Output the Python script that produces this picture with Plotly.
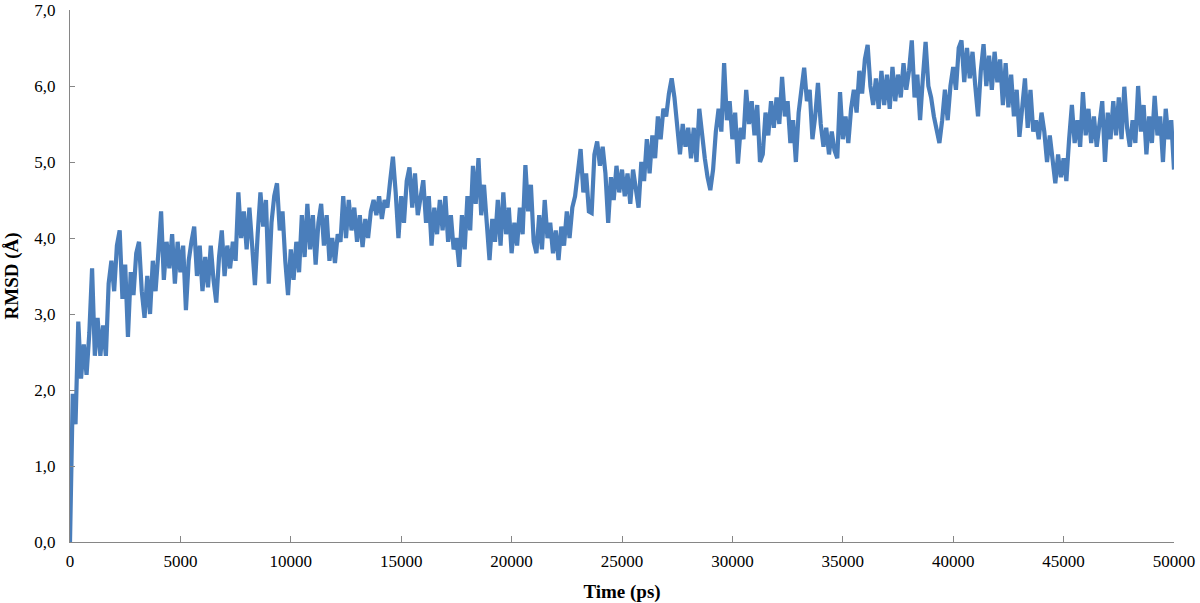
import plotly.graph_objects as go

rmsd_00_05ns = [0.00, 1.95, 1.55, 2.90, 2.15, 2.60, 2.20, 2.75, 3.60, 2.45,
                2.95, 2.45, 2.85, 2.45, 3.40, 3.70, 3.30, 3.90, 4.10, 3.20,
                3.65, 2.70, 3.55, 3.25, 3.80, 3.95, 3.30, 2.95, 3.50, 3.00,
                3.70, 3.30, 3.80, 4.35, 3.45, 3.95, 3.60, 4.05, 3.40, 3.95]
rmsd_05_10ns = [3.55, 3.90, 3.05, 3.70, 3.95, 4.15, 3.50, 3.90, 3.30, 3.75,
                3.35, 3.90, 3.45, 3.15, 3.75, 4.10, 3.50, 3.90, 3.60, 3.95,
                3.70, 4.60, 4.00, 4.35, 3.85, 4.40, 3.90, 3.38, 4.05, 4.60,
                4.15, 4.50, 3.40, 4.20, 4.55, 4.72, 4.10, 4.35, 3.70, 3.25]
rmsd_10_15ns = [3.85, 3.45, 3.95, 3.55, 4.30, 3.75, 4.45, 3.85, 4.30, 3.65,
                4.20, 4.45, 3.90, 4.30, 3.70, 4.00, 3.67, 4.05, 3.95, 4.55,
                4.00, 4.50, 4.10, 4.40, 3.95, 4.30, 3.88, 4.25, 4.00, 4.35,
                4.50, 4.30, 4.55, 4.25, 4.50, 4.40, 4.75, 5.07, 4.60, 4.00]
rmsd_15_20ns = [4.55, 4.20, 4.75, 4.93, 4.40, 4.85, 4.30, 4.55, 4.76, 4.20,
                4.55, 3.90, 4.40, 4.05, 4.50, 4.10, 4.55, 3.95, 4.30, 3.85,
                4.00, 3.62, 4.30, 3.85, 4.55, 4.10, 4.95, 4.45, 5.05, 4.30,
                4.70, 4.20, 3.71, 4.25, 3.95, 4.50, 3.90, 4.60, 4.05, 4.40]
rmsd_20_25ns = [3.80, 4.20, 3.90, 4.40, 4.05, 4.96, 4.35, 4.70, 3.95, 3.80,
                4.30, 3.85, 4.50, 4.00, 4.20, 3.80, 4.10, 3.71, 4.15, 3.90,
                4.35, 4.00, 4.40, 4.55, 4.90, 5.17, 4.60, 4.85, 4.35, 4.33,
                5.10, 5.27, 4.95, 5.20, 4.85, 4.20, 4.80, 4.50, 4.95, 4.60]
rmsd_25_30ns = [4.90, 4.55, 4.85, 4.45, 4.90, 4.60, 4.40, 5.00, 4.75, 5.30,
                4.85, 5.35, 5.05, 5.60, 5.30, 5.70, 5.60, 5.90, 6.10, 5.85,
                5.40, 5.10, 5.50, 5.20, 5.45, 5.05, 5.45, 5.00, 5.70, 5.30,
                5.05, 4.80, 4.63, 4.90, 5.40, 5.70, 5.40, 6.30, 5.55, 5.80]
rmsd_30_35ns = [5.30, 5.65, 4.98, 5.45, 5.30, 5.95, 5.50, 5.80, 5.35, 5.75,
                5.00, 5.10, 5.65, 5.35, 5.80, 5.45, 5.85, 5.50, 6.12, 5.60,
                5.80, 5.25, 5.55, 5.00, 5.65, 5.95, 6.24, 5.80, 5.95, 5.30,
                5.60, 6.04, 5.50, 5.20, 5.45, 5.10, 5.40, 5.15, 5.05, 5.92]
rmsd_35_40ns = [5.30, 5.60, 5.25, 5.70, 5.95, 5.65, 6.20, 5.90, 6.35, 6.54,
                6.00, 5.75, 6.10, 5.70, 6.20, 5.75, 6.15, 5.70, 6.25, 5.80,
                6.15, 5.85, 6.30, 5.95, 6.20, 6.60, 5.85, 6.15, 5.55, 6.10,
                6.58, 6.00, 5.85, 5.60, 5.40, 5.25, 5.55, 5.95, 5.55, 6.00]
rmsd_40_45ns = [6.25, 5.95, 6.50, 6.60, 6.05, 6.50, 6.10, 6.45, 6.00, 5.60,
                6.20, 6.55, 6.00, 6.40, 5.95, 6.45, 6.05, 6.35, 5.75, 6.30,
                5.72, 6.15, 5.60, 5.95, 5.33, 5.70, 6.10, 5.45, 5.95, 5.40,
                5.55, 5.30, 5.65, 5.40, 5.00, 5.35, 5.05, 4.72, 5.10, 4.80]
rmsd_45_50ns = [5.05, 4.75, 5.30, 5.75, 5.25, 5.55, 5.20, 5.92, 5.35, 5.70,
                5.25, 5.60, 5.20, 5.55, 5.80, 5.00, 5.65, 5.30, 5.80, 5.35,
                5.85, 5.30, 5.99, 5.45, 5.20, 5.55, 5.25, 6.00, 5.40, 5.75,
                5.10, 5.60, 5.25, 5.87, 5.35, 5.60, 5.00, 5.70, 5.30, 5.55,
                4.90]

sample_step_ps = 125

x_tick_values = [0, 5000, 10000, 15000, 20000, 25000, 30000, 35000, 40000, 45000, 50000]
x_tick_labels = ["0", "5000", "10000", "15000", "20000", "25000", "30000",
                 "35000", "40000", "45000", "50000"]
y_tick_values = [0, 1, 2, 3, 4, 5, 6, 7]
y_tick_labels = ["0,0", "1,0", "2,0", "3,0", "4,0", "5,0", "6,0", "7,0"]

rmsd = (rmsd_00_05ns + rmsd_05_10ns + rmsd_10_15ns + rmsd_15_20ns + rmsd_20_25ns +
        rmsd_25_30ns + rmsd_30_35ns + rmsd_35_40ns + rmsd_40_45ns + rmsd_45_50ns)
time_ps = [i * sample_step_ps for i in range(len(rmsd))]

FONT = "Liberation Serif"
AXIS_COLOR = "#868686"

fig = go.Figure()
fig.add_trace(go.Scatter(
    x=time_ps, y=rmsd, mode="lines",
    line=dict(color="#4a7ebb", width=4.2),
    showlegend=False,
))

fig.update_layout(
    width=1200, height=603,
    margin=dict(l=70, r=26, t=10, b=61, autoexpand=False),
    paper_bgcolor="white", plot_bgcolor="white",
    font=dict(family=FONT, size=17, color="black"),
)
fig.update_xaxes(
    range=[0, 50000], showgrid=False, zeroline=False, automargin=False,
    showline=True, linecolor=AXIS_COLOR, linewidth=1,
    ticks="inside", ticklen=6, tickcolor=AXIS_COLOR,
    tickvals=x_tick_values, ticktext=x_tick_labels,
    tickfont=dict(family=FONT, size=17), ticklabelstandoff=4,
    title=dict(text="<b>Time (ps)</b>", font=dict(family=FONT, size=19), standoff=14),
)
fig.update_yaxes(
    range=[0, 7], showgrid=False, zeroline=False, automargin=False,
    showline=True, linecolor=AXIS_COLOR, linewidth=1,
    ticks="inside", ticklen=5, tickcolor=AXIS_COLOR,
    tickvals=y_tick_values, ticktext=y_tick_labels,
    tickfont=dict(family=FONT, size=17), ticklabelstandoff=10,
    title=dict(text="<b>RMSD (Å)</b>", font=dict(family=FONT, size=19), standoff=10),
)

fig.write_html("out.html", config={"displayModeBar": False},
               post_script="document.body.style.margin = '0';")
